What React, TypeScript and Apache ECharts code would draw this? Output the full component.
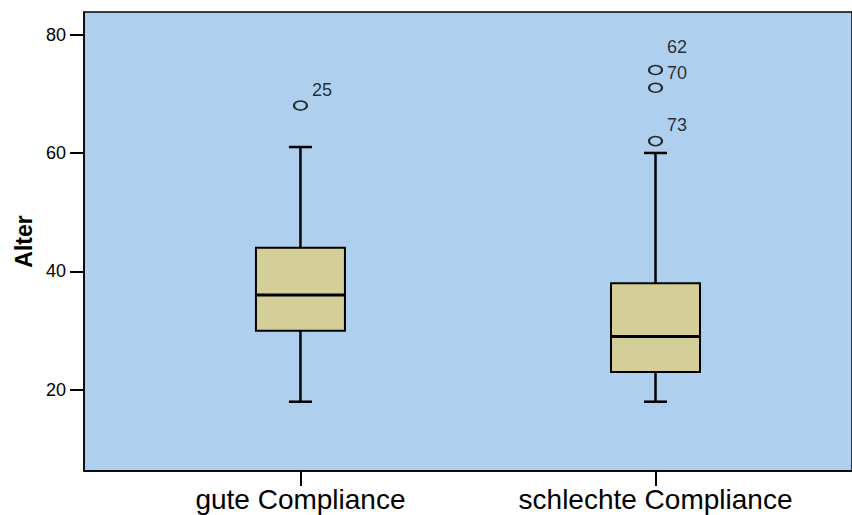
import React, { useEffect, useRef } from "react";
import * as echarts from "echarts";

// ---- data ----
const categories = ["gute Compliance", "schlechte Compliance"];
// [min, Q1, median, Q3, max]
const boxStats = [
  [18, 30, 36, 44, 61],
  [18, 23, 29, 38, 60],
];
const outlierGroup = [1, 2, 2, 2];
const outlierValues = [68, 74, 71, 62];
const outlierLabels = ["25", "62", "70", "73"];
const yTicks = [20, 40, 60, 80];
const xTicks = [1, 2];

// ---- styling (label offsets in px, not data) ----
const labelOffsets = [
  [0, -16],
  [0, -23],
  [0, -15],
  [0, -16],
];

const FONT = "'Liberation Sans', Arial, Helvetica, sans-serif";
const BG = "#aed0ee";
const BOX = "#d4cf99";

export default function App() {
  const ref = useRef<HTMLDivElement>(null);

  useEffect(() => {
    if (!ref.current) return;
    const chart = echarts.init(ref.current, null, { renderer: "svg" });

    const boxData = categories.map((_, i) => [xTicks[i], ...boxStats[i]]);
    const outData = outlierValues.map((v, i) => ({
      value: [outlierGroup[i], v],
      label: {
        show: true,
        formatter: outlierLabels[i],
        offset: labelOffsets[i],
      },
    }));

    const BOX_W = 89;
    const CAP_W = 23;

    const option: any = {
      animation: false,
      backgroundColor: "#ffffff",
      textStyle: { fontFamily: FONT },
      grid: {
        left: 84,
        top: 12,
        right: -3,
        bottom: 44,
        show: true,
        backgroundColor: BG,
        borderColor: "#000",
        borderWidth: 1.5,
        containLabel: false,
      },
      xAxis: {
        type: "value",
        min: 0.3904,
        max: 2.5534,
        splitLine: { show: false },
        axisLine: { show: true, lineStyle: { color: "#000", width: 1.5 } },
        axisTick: {
          show: true,
          customValues: xTicks,
          length: 15,
          lineStyle: { color: "#000", width: 2 },
        },
        axisLabel: {
          customValues: xTicks,
          formatter: (v: number) => categories[Math.round(v) - 1] ?? "",
          color: "#000",
          fontSize: 28,
          fontFamily: FONT,
          margin: 14,
        },
      },
      yAxis: {
        type: "value",
        min: 6.3,
        max: 83.8,
        name: "Alter",
        nameLocation: "middle",
        nameRotate: 90,
        nameGap: 47,
        nameTextStyle: {
          fontFamily: FONT,
          fontWeight: "bold",
          fontSize: 23,
          color: "#000",
        },
        splitLine: { show: false },
        axisLine: { show: true, lineStyle: { color: "#000", width: 1.5 } },
        axisTick: {
          show: true,
          customValues: yTicks,
          length: 14,
          lineStyle: { color: "#000", width: 2 },
        },
        axisLabel: {
          customValues: yTicks,
          color: "#000",
          fontSize: 18,
          fontFamily: FONT,
          margin: 18,
        },
      },
      series: [
        {
          type: "custom",
          data: boxData,
          encode: { x: 0, y: [1, 2, 3, 4, 5] },
          renderItem: (params: any, api: any) => {
            const x = api.value(0);
            const pMin = api.coord([x, api.value(1)]);
            const pQ1 = api.coord([x, api.value(2)]);
            const pMed = api.coord([x, api.value(3)]);
            const pQ3 = api.coord([x, api.value(4)]);
            const pMax = api.coord([x, api.value(5)]);
            const cx = pMin[0];
            const lineStyle = { stroke: "#000", lineWidth: 2.5 };
            return {
              type: "group",
              children: [
                {
                  type: "line",
                  shape: { x1: cx, y1: pQ3[1], x2: cx, y2: pMax[1] },
                  style: lineStyle,
                },
                {
                  type: "line",
                  shape: { x1: cx, y1: pQ1[1], x2: cx, y2: pMin[1] },
                  style: lineStyle,
                },
                {
                  type: "line",
                  shape: {
                    x1: cx - CAP_W / 2,
                    y1: pMax[1],
                    x2: cx + CAP_W / 2,
                    y2: pMax[1],
                  },
                  style: lineStyle,
                },
                {
                  type: "line",
                  shape: {
                    x1: cx - CAP_W / 2,
                    y1: pMin[1],
                    x2: cx + CAP_W / 2,
                    y2: pMin[1],
                  },
                  style: lineStyle,
                },
                {
                  type: "rect",
                  shape: {
                    x: cx - BOX_W / 2,
                    y: pQ3[1],
                    width: BOX_W,
                    height: pQ1[1] - pQ3[1],
                  },
                  style: { fill: BOX, stroke: "#000", lineWidth: 2 },
                },
                {
                  type: "line",
                  shape: {
                    x1: cx - BOX_W / 2,
                    y1: pMed[1],
                    x2: cx + BOX_W / 2,
                    y2: pMed[1],
                  },
                  style: { stroke: "#000", lineWidth: 3 },
                },
              ],
            };
          },
        },
        {
          type: "scatter",
          data: outData,
          symbol: "circle",
          symbolSize: [13, 9],
          itemStyle: {
            color: "rgba(0,0,0,0)",
            borderColor: "#000",
            borderWidth: 1.8,
          },
          label: {
            show: true,
            position: "right",
            distance: 4,
            color: "#000",
            fontSize: 18,
            fontFamily: FONT,
          },
          emphasis: { disabled: true },
        },
      ],
    };

    chart.setOption(option);
    return () => chart.dispose();
  }, []);

  return (
    <div
      ref={ref}
      style={{
        position: "fixed",
        left: 0,
        top: 0,
        width: 852,
        height: 515,
        background: "#fff",
      }}
    />
  );
}
